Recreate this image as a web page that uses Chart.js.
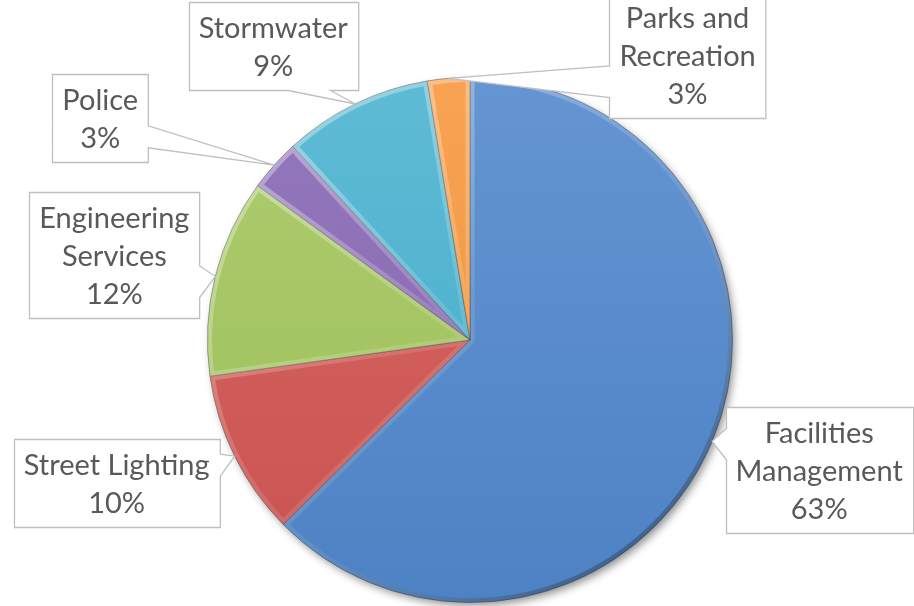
<!DOCTYPE html>
<html>
<head>
<meta charset="utf-8">
<script src="https://cdn.jsdelivr.net/npm/chart.js@4.4.1/dist/chart.umd.min.js"></script>
<style>
    html, body { margin: 0; padding: 0; background: #fff; }
    #wrap { width: 914px; height: 606px; }
</style>
</head>
<body>
<div id="wrap"><canvas id="chart" width="914" height="606"></canvas></div>
<script>
const categories = ['Facilities Management', 'Street Lighting', 'Engineering Services', 'Police', 'Stormwater', 'Parks and Recreation'];
const shares = [62.6, 10.2, 12.2, 3.2, 9.2, 2.6];
const sliceColors = ['#5087cc', '#d25552', '#a3c65c', '#8667b4', '#48b2cf', '#f7973c'];

// where each callout box sits, relative to the tip on its slice (layout only)
const labelOffsets = [[107, 29], [-118, 27], [-101, -21], [-174, -47], [-82, -58], [239, -23]];

const labelFont = '29px Lato';
const lineHeight = 38;

function shade(hex, amt) {
    const n = parseInt(hex.slice(1), 16);
    let r = (n >> 16) & 255, g = (n >> 8) & 255, b = n & 255;
    const f = c => Math.round(amt >= 0 ? c + (255 - c) * amt : c * (1 + amt));
    return 'rgb(' + f(r) + ',' + f(g) + ',' + f(b) + ')';
}

function sliceFill(context) {
    const chart = context.chart;
    const area = chart.chartArea;
    if (!area) return sliceColors[context.dataIndex];
    const base = sliceColors[context.dataIndex];
    const g = chart.ctx.createLinearGradient(0, area.top, 0, area.bottom);
    g.addColorStop(0, shade(base, 0.12));
    g.addColorStop(1, shade(base, -0.04));
    return g;
}

function wrapText(ctx, text, maxWidth) {
    const words = text.split(' ');
    const lines = [];
    let cur = '';
    words.forEach(w => {
        const test = cur ? cur + ' ' + w : w;
        if (cur && ctx.measureText(test).width > maxWidth) {
            lines.push(cur);
            cur = w;
        } else {
            cur = test;
        }
    });
    if (cur) lines.push(cur);
    return lines;
}

// rectangle callout with a wedge pointing at (tx, ty)
function calloutPath(ctx, x, y, w, h, tx, ty) {
    const dx = tx - (x + w / 2), dy = ty - (y + h / 2);
    ctx.beginPath();
    if (tx >= x && tx <= x + w && ty >= y && ty <= y + h) {
        ctx.rect(x, y, w, h);
        return;
    }
    const vertical = Math.abs(dy) > Math.abs(dx * h / w);
    const ax = dx > 0 ? 7 / 12 : 2 / 12;
    const ay = dy > 0 ? 7 / 12 : 2 / 12;
    ctx.moveTo(x, y);
    if (vertical && dy < 0) {
        ctx.lineTo(x + w * ax, y); ctx.lineTo(tx, ty); ctx.lineTo(x + w * (ax + 0.25), y);
    }
    ctx.lineTo(x + w, y);
    if (!vertical && dx > 0) {
        ctx.lineTo(x + w, y + h * ay); ctx.lineTo(tx, ty); ctx.lineTo(x + w, y + h * (ay + 0.25));
    }
    ctx.lineTo(x + w, y + h);
    if (vertical && dy > 0) {
        ctx.lineTo(x + w * (ax + 0.25), y + h); ctx.lineTo(tx, ty); ctx.lineTo(x + w * ax, y + h);
    }
    ctx.lineTo(x, y + h);
    if (!vertical && dx < 0) {
        ctx.lineTo(x, y + h * (ay + 0.25)); ctx.lineTo(tx, ty); ctx.lineTo(x, y + h * ay);
    }
    ctx.closePath();
}

const pieEffects = {
    id: 'pieEffects',
    beforeDatasetsDraw(chart) {
        const arc = chart.getDatasetMeta(0).data[0];
        if (!arc) return;
        const ctx = chart.ctx;
        ctx.save();
        ctx.shadowColor = 'rgba(0,0,0,0.45)';
        ctx.shadowBlur = 9;
        ctx.shadowOffsetX = 3;
        ctx.shadowOffsetY = 4;
        ctx.fillStyle = '#ffffff';
        ctx.beginPath();
        ctx.arc(arc.x, arc.y, arc.outerRadius - 1, 0, Math.PI * 2);
        ctx.fill();
        ctx.restore();
    },
    afterDatasetsDraw(chart) {
        const ctx = chart.ctx;
        chart.getDatasetMeta(0).data.forEach(arc => {
            const r = arc.outerRadius;
            ctx.save();
            ctx.beginPath();
            ctx.moveTo(arc.x, arc.y);
            ctx.arc(arc.x, arc.y, r, arc.startAngle, arc.endAngle);
            ctx.closePath();
            ctx.clip();
            const g = ctx.createLinearGradient(arc.x - r, arc.y - r, arc.x + r * 0.6, arc.y + r);
            g.addColorStop(0, 'rgba(255,255,255,0.45)');
            g.addColorStop(0.5, 'rgba(255,255,255,0.12)');
            g.addColorStop(1, 'rgba(0,0,0,0.35)');
            ctx.strokeStyle = g;
            ctx.lineWidth = 9;
            ctx.lineJoin = 'miter';
            ctx.stroke();
            ctx.restore();
        });
    },
    afterDraw(chart) {
        const ctx = chart.ctx;
        const total = shares.reduce((a, b) => a + b, 0);
        ctx.save();
        ctx.font = labelFont;
        chart.getDatasetMeta(0).data.forEach((arc, i) => {
            const mid = (arc.startAngle + arc.endAngle) / 2;
            const tx = arc.x + Math.cos(mid) * arc.outerRadius;
            const ty = arc.y + Math.sin(mid) * arc.outerRadius;
            const lines = wrapText(ctx, categories[i], 200);
            lines.push(Math.round(shares[i] / total * 100) + '%');
            const tw = Math.max(...lines.map(l => ctx.measureText(l).width));
            const w = tw + 20, h = lines.length * lineHeight + 12;
            const cx = tx + labelOffsets[i][0], cy = ty + labelOffsets[i][1];
            const x = Math.round(cx - w / 2) + 0.5, y = Math.round(cy - h / 2) + 0.5;
            calloutPath(ctx, x, y, w, h, tx, ty);
            ctx.fillStyle = '#ffffff';
            ctx.fill();
            ctx.strokeStyle = '#bfbfbf';
            ctx.lineWidth = 1.3;
            ctx.stroke();
            ctx.fillStyle = '#595959';
            ctx.textAlign = 'center';
            ctx.textBaseline = 'middle';
            lines.forEach((l, k) => {
                ctx.fillText(l, cx, y + 6 + lineHeight * (k + 0.5) + 1);
            });
        });
        ctx.restore();
    }
};

new Chart(document.getElementById('chart').getContext('2d'), {
    type: 'pie',
    data: {
        labels: categories,
        datasets: [{
            data: shares,
            backgroundColor: sliceFill,
            borderColor: 'rgba(40,40,40,0.45)',
            borderWidth: 1
        }]
    },
    options: {
        responsive: false,
        animation: false,
        layout: { padding: { top: 77, bottom: 3, left: 26, right: 0 } },
        plugins: {
            legend: { display: false },
            tooltip: { enabled: false }
        }
    },
    plugins: [pieEffects]
});
</script>
</body>
</html>
